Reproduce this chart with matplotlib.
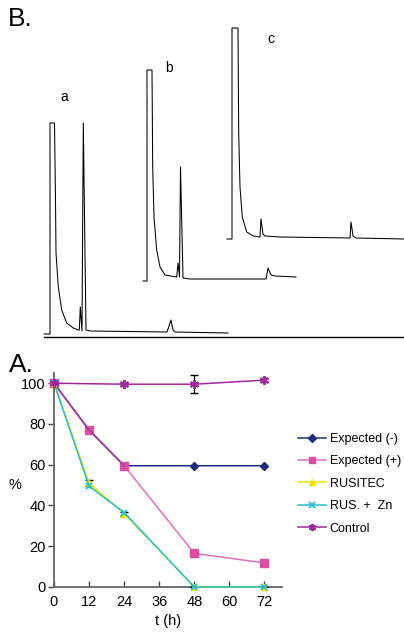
import matplotlib
matplotlib.use("Agg")
import matplotlib.pyplot as plt
import numpy as np

plt.rcParams['font.family'] = ['Liberation Sans', 'DejaVu Sans']

# ---------------- Panel B data: chromatograms (time, signal) ----------------
trace_a_t = [0, 0.6, 0.6, 1.05, 1.15, 1.2, 1.43, 1.77, 2.27, 2.93, 3.43, 3.53, 3.63, 3.8,
             3.93, 4.2, 4.6, 12.3, 12.7, 12.9, 13.1, 18.4]
trace_a_s = [0, 0, 211, 211, 134, 81, 47, 24, 11, 6, 4, 4, 27, 3,
             211, 4, 3, 2, 14, 4, 2, 1]
trace_b_t = [0, 0.4, 0.4, 0.9, 0.97, 1.1, 1.37, 1.7, 2.2, 3.37, 3.5, 3.65, 3.75, 4.0,
             4.7, 12.3, 12.5, 12.8, 13.2, 15.3]
trace_b_s = [0, 0, 211, 211, 114, 64, 31, 14, 6, 4, 18, 4, 114, 3,
             2, 2, 13, 6, 5, 4]
trace_c_t = [0, 0.5, 0.5, 1.1, 1.17, 1.3, 1.53, 1.97, 2.63, 3.3, 3.4, 3.6, 3.8, 5.3,
             12.3, 12.4, 12.6, 12.9, 17.7]
trace_c_s = [0, 0, 211, 211, 106, 52, 22, 7, 3, 2, 20, 5, 3, 2,
             1, 17, 3, 1, 0]
trace_labels = ['a', 'b', 'c']

# ---------------- Panel A data ----------------
t_hours = [0, 12, 24, 48, 72]
expected_minus = [100, 77, 59.5, 59.5, 59.5]
expected_plus = [100, 77, 59.5, 16.5, 11.8]
rusitec = [100, 51, 36, 0, 0]
rusitec_err = [0, 1.5, 1.0, 0, 0]
rus_zn = [100, 49.5, 36.5, 0, 0]
control_t = [0, 24, 48, 72]
control = [100, 99.5, 99.5, 101.5]
control_err = [0, 1.0, 4.3, 1.0]
series_names = ['Expected (-)', 'Expected (+)', 'RUSITEC', 'RUS. +  Zn', 'Control']
x_ticks = [0, 12, 24, 36, 48, 60, 72]
y_ticks = [0, 20, 40, 60, 80, 100]

W, H = 404, 634
fig = plt.figure(figsize=(W / 100, H / 100), dpi=100)

# ---------------- Panel B ----------------
axB = fig.add_axes([0, (H - 340) / H, 1, 340 / H])
axB.set_xlim(-4.4, 36.0)
axB.set_ylim(-6, 334)
axB.axis('off')
offsets = [(0, 0), (9.9, 53), (18.3, 95)]
traces = [(trace_a_t, trace_a_s), (trace_b_t, trace_b_s), (trace_c_t, trace_c_s)]
for (tt, ss), (dx, dy) in zip(traces, offsets):
    axB.plot(np.array(tt) + dx, np.array(ss) + dy, color='black', lw=0.75,
             solid_joinstyle='round')
axB.plot([0, 36.0], [-3, -3], color='black', lw=1.0)
label_pos = [(2.0, 237), (12.5, 266), (22.7, 295)]
for lab, (lx, ly) in zip(trace_labels, label_pos):
    axB.text(lx, ly, lab, fontsize=10, ha='center', va='center')
fig.text(8 / W, 1 - 19 / H, 'B.', fontsize=19, ha='left', va='center')

# ---------------- Panel A ----------------
axA = fig.add_axes([54 / W, 47 / H, 228 / W, 214 / H])
axA.set_xlim(0, 78)
axA.set_ylim(0, 105)

c_navy = '#1f2a7a'
c_pink = '#dc4ea2'
c_pink_line = '#e070b8'
c_yellow = '#f2e600'
c_cyan = '#22bfd0'
c_purple = '#a02a9e'

l1, = axA.plot(t_hours, expected_minus, color=c_navy, lw=1.1, marker='D', ms=4.5,
               mfc=c_navy, mec=c_navy, clip_on=False, zorder=3)
l2, = axA.plot(t_hours, expected_plus, color=c_pink_line, lw=1.1, marker='s', ms=6,
               mfc=c_pink, mec=c_pink, clip_on=False, zorder=3)
axA.plot(t_hours[:3], expected_minus[:3], color='#9a3f99', lw=1.1, zorder=3.5)
axA.errorbar(t_hours, rusitec, yerr=rusitec_err, fmt='none', ecolor='black',
             elinewidth=0.9, capsize=3, zorder=3.6)
l3, = axA.plot(t_hours, rusitec, color=c_yellow, lw=1.1, marker='^', ms=5,
               mfc=c_yellow, mec=c_yellow, clip_on=False, zorder=4)
l4, = axA.plot(t_hours, rus_zn, color=c_cyan, lw=1.1, marker='x', ms=5, mew=1.3,
               mec=c_cyan, clip_on=False, zorder=4.5)
axA.errorbar(control_t, control, yerr=control_err, fmt='none', ecolor='black',
             elinewidth=0.9, capsize=3, zorder=4.8)
l5, = axA.plot(control_t, control, color=c_purple, lw=1.1, marker=(6, 2, 0), ms=6.5,
               mew=1.4, mec=c_purple, clip_on=False, zorder=5)

axA.spines['top'].set_visible(False)
axA.spines['right'].set_visible(False)
for s in ['left', 'bottom']:
    axA.spines[s].set_color('#666666')
    axA.spines[s].set_linewidth(1.3)
axA.set_xticks(x_ticks)
axA.set_yticks(y_ticks)
axA.tick_params(axis='x', direction='in', length=4, width=1, color='#444444',
                labelsize=10.5, pad=6)
axA.tick_params(axis='y', direction='out', length=4, width=1, color='#444444',
                labelsize=10.5, pad=2)
axA.set_xlabel('t (h)', fontsize=10.5, labelpad=3)
axA.set_ylabel('%', fontsize=10.5, rotation=0, va='center')
axA.yaxis.set_label_coords(-39 / 228, (587 - 485) / 214)

leg = fig.legend([l1, l2, l3, l4, l5], series_names, loc='upper left',
                 bbox_to_anchor=(298 / W, 1 - 433 / H), frameon=False, fontsize=9,
                 handlelength=2.2, handletextpad=0.35, labelspacing=0.83,
                 borderaxespad=0, borderpad=0, markerscale=0.8)

fig.text(9 / W, 1 - 365 / H, 'A.', fontsize=19, ha='left', va='center')

fig.savefig('out.png', dpi=100)
